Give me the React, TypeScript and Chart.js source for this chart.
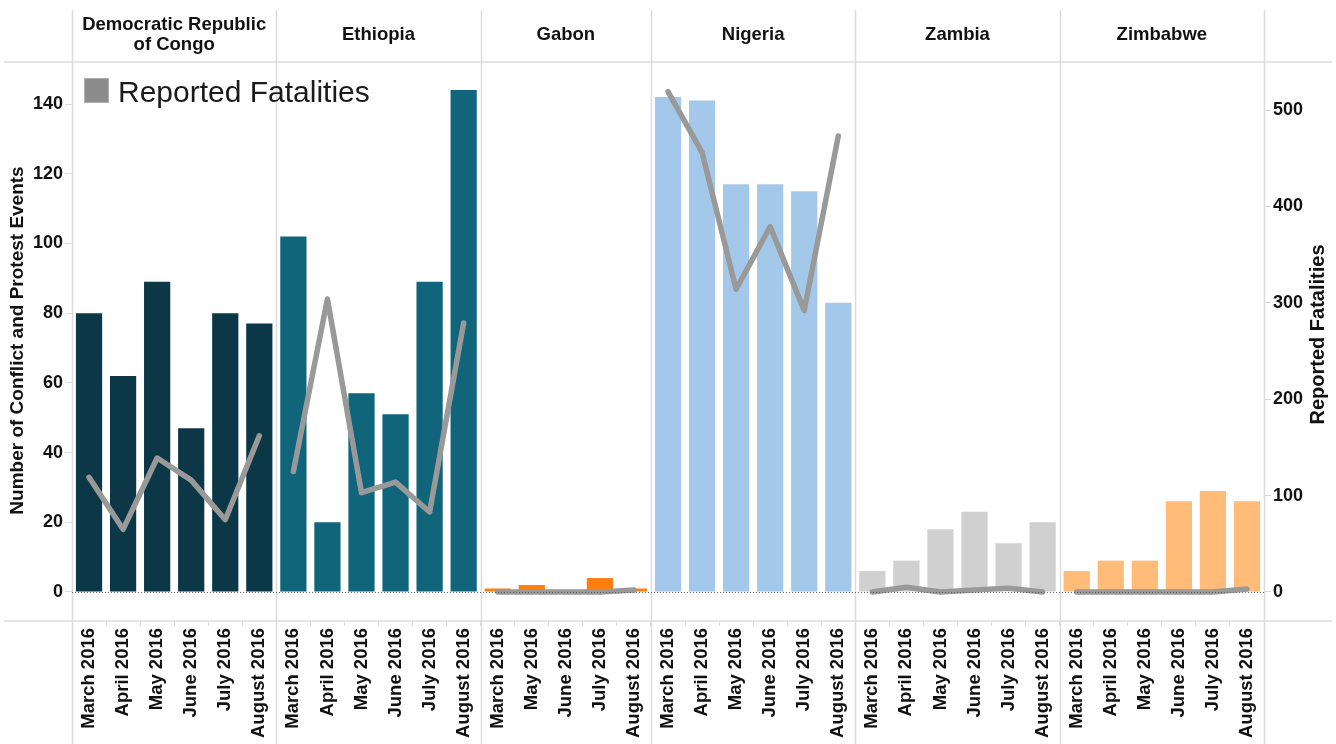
import React, { useEffect, useRef } from "react";
import { Chart, registerables } from "chart.js";

Chart.register(...registerables);

// ---------- data ----------
const countries = [
  "Democratic Republic of Congo",
  "Ethiopia",
  "Gabon",
  "Nigeria",
  "Zambia",
  "Zimbabwe",
];
const monthsFull = ["March 2016", "April 2016", "May 2016", "June 2016", "July 2016", "August 2016"];
const monthsGabon = ["March 2016", "May 2016", "June 2016", "July 2016", "August 2016"];

const drcEvents = [80, 62, 89, 47, 80, 77];
const ethiopiaEvents = [102, 20, 57, 51, 89, 144];
const gabonEvents = [1, 2, 0, 4, 1];
const nigeriaEvents = [142, 141, 117, 117, 115, 83];
const zambiaEvents = [6, 9, 18, 23, 14, 20];
const zimbabweEvents = [6, 9, 9, 26, 29, 26];

const drcFatalities = [119, 65, 139, 116, 75, 162];
const ethiopiaFatalities = [125, 304, 103, 114, 83, 279];
const gabonFatalities = [0, 0, 0, 0, 2];
const nigeriaFatalities = [519, 456, 314, 379, 292, 473];
const zambiaFatalities = [0, 5, 0, 2, 4, 0];
const zimbabweFatalities = [0, 0, 0, 0, 0, 3];

const leftTicks = [0, 20, 40, 60, 80, 100, 120, 140];
const rightTicks = [0, 100, 200, 300, 400, 500];

const countryColors = ["#0b3747", "#10657b", "#ff7f0e", "#a4c8ea", "#d0d0d0", "#ffbb78"];

const leftTitle = "Number of Conflict and Protest Events";
const rightTitle = "Reported Fatalities";
const legendLabel = "Reported Fatalities";

// ---------- derived ----------
const panels = [
  { name: countries[0], months: monthsFull, events: drcEvents, fat: drcFatalities, color: countryColors[0] },
  { name: countries[1], months: monthsFull, events: ethiopiaEvents, fat: ethiopiaFatalities, color: countryColors[1] },
  { name: countries[2], months: monthsGabon, events: gabonEvents, fat: gabonFatalities, color: countryColors[2] },
  { name: countries[3], months: monthsFull, events: nigeriaEvents, fat: nigeriaFatalities, color: countryColors[3] },
  { name: countries[4], months: monthsFull, events: zambiaEvents, fat: zambiaFatalities, color: countryColors[4] },
  { name: countries[5], months: monthsFull, events: zimbabweEvents, fat: zimbabweFatalities, color: countryColors[5] },
];

const labels: string[] = [];
const barValues: number[] = [];
const barColors: string[] = [];
const panelStarts: number[] = [];
panels.forEach((p) => {
  panelStarts.push(labels.length);
  p.months.forEach((m, i) => {
    labels.push(m);
    barValues.push(p.events[i]);
    barColors.push(p.color);
  });
});
panelStarts.push(labels.length);
const N = labels.length;

const lineDatasets = panels.map((p, pi) => {
  const data: (number | null)[] = new Array(N).fill(null);
  p.fat.forEach((v, i) => {
    data[panelStarts[pi] + i] = v;
  });
  return {
    type: "line" as const,
    label: legendLabel,
    data,
    yAxisID: "y1",
    borderColor: "#999999",
    backgroundColor: "#999999",
    borderWidth: 5.5,
    pointRadius: 0,
    borderCapStyle: "round" as const,
    borderJoinStyle: "round" as const,
    tension: 0,
    spanGaps: false,
    order: 0,
  };
});

const FONT = "'Liberation Sans', Arial, sans-serif";
const GRID = "#dcdcdc";

const facetPlugin = {
  id: "facets",
  beforeDatasetsDraw(chart: any) {
    const ctx = chart.ctx;
    const x = chart.scales.x;
    const area = chart.chartArea;
    const W = chart.width;
    const H = chart.height;
    const bnd = (k: number) =>
      k === 0 ? x.left : k === N ? x.right : (x.getPixelForValue(k - 1) + x.getPixelForValue(k)) / 2;
    ctx.save();
    ctx.strokeStyle = GRID;
    ctx.lineWidth = 1.5;
    [area.top, area.bottom].forEach((yy: number) => {
      ctx.beginPath();
      ctx.moveTo(4, yy);
      ctx.lineTo(W - 4, yy);
      ctx.stroke();
    });
    panelStarts.forEach((k) => {
      const px = Math.round(bnd(k)) + 0.5;
      ctx.beginPath();
      ctx.moveTo(px, 10);
      ctx.lineTo(px, H);
      ctx.stroke();
    });
    ctx.restore();
  },
  afterDatasetsDraw(chart: any) {
    const ctx = chart.ctx;
    const area = chart.chartArea;
    const y0 = Math.round(chart.scales.y.getPixelForValue(0)) + 0.5;
    ctx.save();
    ctx.strokeStyle = "#666";
    ctx.lineWidth = 1;
    ctx.setLineDash([1, 2]);
    ctx.beginPath();
    ctx.moveTo(area.left, y0);
    ctx.lineTo(area.right, y0);
    ctx.stroke();
    ctx.restore();
  },
  afterDraw(chart: any) {
    const ctx = chart.ctx;
    const x = chart.scales.x;
    const area = chart.chartArea;
    const bnd = (k: number) =>
      k === 0 ? x.left : k === N ? x.right : (x.getPixelForValue(k - 1) + x.getPixelForValue(k)) / 2;
    ctx.save();
    // headers
    ctx.fillStyle = "#111";
    ctx.font = `bold 18.5px ${FONT}`;
    ctx.textAlign = "center";
    ctx.textBaseline = "middle";
    panels.forEach((p, pi) => {
      const l = bnd(panelStarts[pi]);
      const r = bnd(panelStarts[pi + 1]);
      const maxW = r - l - 8;
      const words = p.name.split(" ");
      const lines: string[] = [];
      let cur = "";
      words.forEach((w) => {
        const t = cur ? cur + " " + w : w;
        if (ctx.measureText(t).width > maxW && cur) {
          lines.push(cur);
          cur = w;
        } else cur = t;
      });
      if (cur) lines.push(cur);
      const lh = 20;
      const cy = 35;
      lines.forEach((ln, i) => {
        ctx.fillText(ln, (l + r) / 2, cy + (i - (lines.length - 1) / 2) * lh);
      });
    });
    // axis titles
    const cyMid = (area.top + area.bottom) / 2;
    ctx.save();
    ctx.font = `bold 19px ${FONT}`;
    ctx.translate(18, cyMid - 1);
    ctx.rotate(-Math.PI / 2);
    ctx.fillText(leftTitle, 0, 0);
    ctx.restore();
    ctx.save();
    ctx.font = `bold 20px ${FONT}`;
    ctx.translate(1318, cyMid - 7);
    ctx.rotate(-Math.PI / 2);
    ctx.fillText(rightTitle, 0, 0);
    ctx.restore();
    // legend
    ctx.fillStyle = "#8c8c8c";
    ctx.fillRect(area.left + 12, area.top + 16, 25, 25);
    ctx.strokeStyle = "#b0b0b0";
    ctx.lineWidth = 1;
    ctx.strokeRect(area.left + 12.5, area.top + 16.5, 24, 24);
    ctx.fillStyle = "#1a1a1a";
    ctx.font = `30px ${FONT}`;
    ctx.textAlign = "left";
    ctx.textBaseline = "alphabetic";
    ctx.fillText(legendLabel, area.left + 46, area.top + 40);
    ctx.restore();
  },
};

export default function App() {
  const ref = useRef<HTMLCanvasElement | null>(null);
  useEffect(() => {
    if (!ref.current) return;
    const tickFont = { family: FONT, size: 18, weight: "bold" as const };
    const chart = new Chart(ref.current, {
      type: "bar",
      data: {
        labels,
        datasets: [
          {
            type: "bar" as const,
            label: "Events",
            data: barValues,
            backgroundColor: barColors,
            borderWidth: 0,
            yAxisID: "y",
            barPercentage: 0.77,
            categoryPercentage: 1,
            order: 1,
          },
          ...lineDatasets,
        ] as any,
      },
      options: {
        responsive: false,
        animation: false,
        events: [],
        layout: { padding: { top: 62, left: 0, right: 0, bottom: 0 } },
        plugins: { legend: { display: false }, tooltip: { enabled: false } },
        scales: {
          x: {
            type: "category",
            offset: true,
            afterFit: (s: any) => {
              s.height = 123;
            },
            grid: {
              display: true,
              offset: true,
              drawOnChartArea: false,
              drawTicks: true,
              tickLength: 5,
              color: GRID,
            },
            border: { display: false },
            ticks: {
              autoSkip: false,
              minRotation: 90,
              maxRotation: 90,
              padding: 2,
              color: "#111",
              font: { family: FONT, size: 18.5, weight: "bold" as const },
            },
          },
          y: {
            type: "linear",
            position: "left",
            min: -8.32,
            max: 152.05,
            afterFit: (s: any) => {
              s.width = 72;
            },
            afterBuildTicks: (s: any) => {
              s.ticks = leftTicks.map((v) => ({ value: v }));
            },
            grid: {
              display: true,
              drawOnChartArea: false,
              drawTicks: true,
              tickLength: 7,
              color: GRID,
            },
            border: { display: false },
            ticks: { padding: 2, color: "#111", font: tickFont },
          },
          y1: {
            type: "linear",
            position: "right",
            min: -30.1,
            max: 549.8,
            afterFit: (s: any) => {
              s.width = 72;
            },
            afterBuildTicks: (s: any) => {
              s.ticks = rightTicks.map((v) => ({ value: v }));
            },
            grid: {
              display: true,
              drawOnChartArea: false,
              drawTicks: true,
              tickLength: 7,
              color: GRID,
            },
            border: { display: false },
            ticks: { padding: 2, color: "#111", font: tickFont },
          },
        },
      } as any,
      plugins: [facetPlugin],
    });
    return () => chart.destroy();
  }, []);
  return (
    <div style={{ position: "fixed", left: 0, top: 0, width: 1336, height: 744, background: "#fff" }}>
      <canvas ref={ref} width={1336} height={744} style={{ display: "block" }} />
    </div>
  );
}
